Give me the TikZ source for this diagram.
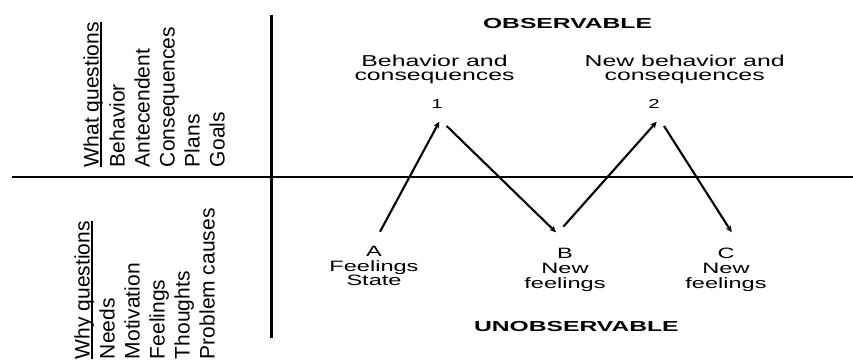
\documentclass[tikz,border=0pt]{standalone}
\usepackage{fontspec}
\setmainfont{Liberation Sans}
\newfontfamily\widefont[FakeStretch=1.57]{Liberation Sans}
\newfontfamily\widebold[FakeStretch=1.7]{Liberation Sans Bold}
\usetikzlibrary{arrows.meta,calc}
\begin{document}
\begin{tikzpicture}[x=1pt,y=-1pt,
  every node/.style={inner sep=0pt, outer sep=0pt},
  coltext/.style={rotate=90, anchor=base west, font=\fontsize{21}{25}\selectfont},
  lbltop/.style={align=center, anchor=north, font=\widefont\fontsize{15.8}{14.7}\selectfont},
  lblbot/.style={align=center, anchor=north, font=\widefont\fontsize{15}{14.7}\selectfont},
  numlbl/.style={anchor=base, font=\widefont\fontsize{13}{14}\selectfont},
  region/.style={anchor=base, font=\widebold\fontsize{14.5}{16}\selectfont},
  hdivider/.style={line width=2.2pt},
  vdivider/.style={line width=3pt},
  uline/.style={line width=1.6pt},
  flow/.style={line width=2.1pt, -{Stealth[length=6.5pt,width=6pt]}}]
\useasboundingbox (0,0) rectangle (853,360);

% dividers
\coordinate (hl) at (12,177);
\coordinate (hr) at (853,177);
\coordinate (vt) at (271,15);
\coordinate (vb) at (271,338);
\draw[hdivider] (hl) -- (hr);
\draw[vdivider] (vt) -- (vb);

% top column
\node[coltext] (wq) at (98.5,167) {What questions};
\node[coltext] (t1) at (124.5,167) {Behavior};
\node[coltext] (t2) at (149.5,167) {Antecendent};
\node[coltext] (t3) at (174.5,167) {Consequences};
\node[coltext] (t4) at (199.5,167) {Plans};
\node[coltext] (t5) at (224.5,167) {Goals};
\draw[uline] ($(wq.base west)+(2.2,0)$) -- ($(wq.base east)+(2.2,0)$);

% bottom column
\node[coltext] (yq) at (89.5,359) {Why questions};
\node[coltext] (b1) at (114.5,359) {Needs};
\node[coltext] (b2) at (139.5,359) {Motivation};
\node[coltext] (b3) at (164.5,359) {Feelings};
\node[coltext] (b4) at (189.5,359) {Thoughts};
\node[coltext] (b5) at (214.5,359) {Problem causes};
\draw[uline] ($(yq.base west)+(2.2,0)$) -- ($(yq.base east)+(2.2,0)$);

% region labels
\node[region] (obs) at (567.5,28.3) {OBSERVABLE};
\node[region] (unobs) at (576.4,331.7) {UNOBSERVABLE};

% observable labels
\node[lbltop] (l1) at (434.5,54.7) {Behavior and\\consequences};
\node[lbltop] (l2) at (684.7,54.7) {New behavior and\\consequences};
\node[numlbl] (n1) at (437,108.3) {1};
\node[numlbl] (n2) at (654,108.3) {2};

% unobservable labels
\node[lblbot] (la) at (374,246) {A\\Feelings\\State};
\node[lblbot] (lb) at (565,248.3) {B\\New\\feelings};
\node[lblbot] (lc) at (726,248.3) {C\\New\\feelings};

% arrows
\coordinate (a1s) at (380,231.7);
\coordinate (a1e) at (439.3,121.7);
\coordinate (a2s) at (446.7,126);
\coordinate (a2e) at (556,232.3);
\coordinate (a3s) at (563.3,226.7);
\coordinate (a3e) at (656.7,121.7);
\coordinate (a4s) at (664,126);
\coordinate (a4e) at (731.7,232.3);
\draw[flow] (a1s) -- (a1e);
\draw[flow] (a2s) -- (a2e);
\draw[flow] (a3s) -- (a3e);
\draw[flow] (a4s) -- (a4e);
\end{tikzpicture}
\end{document}
